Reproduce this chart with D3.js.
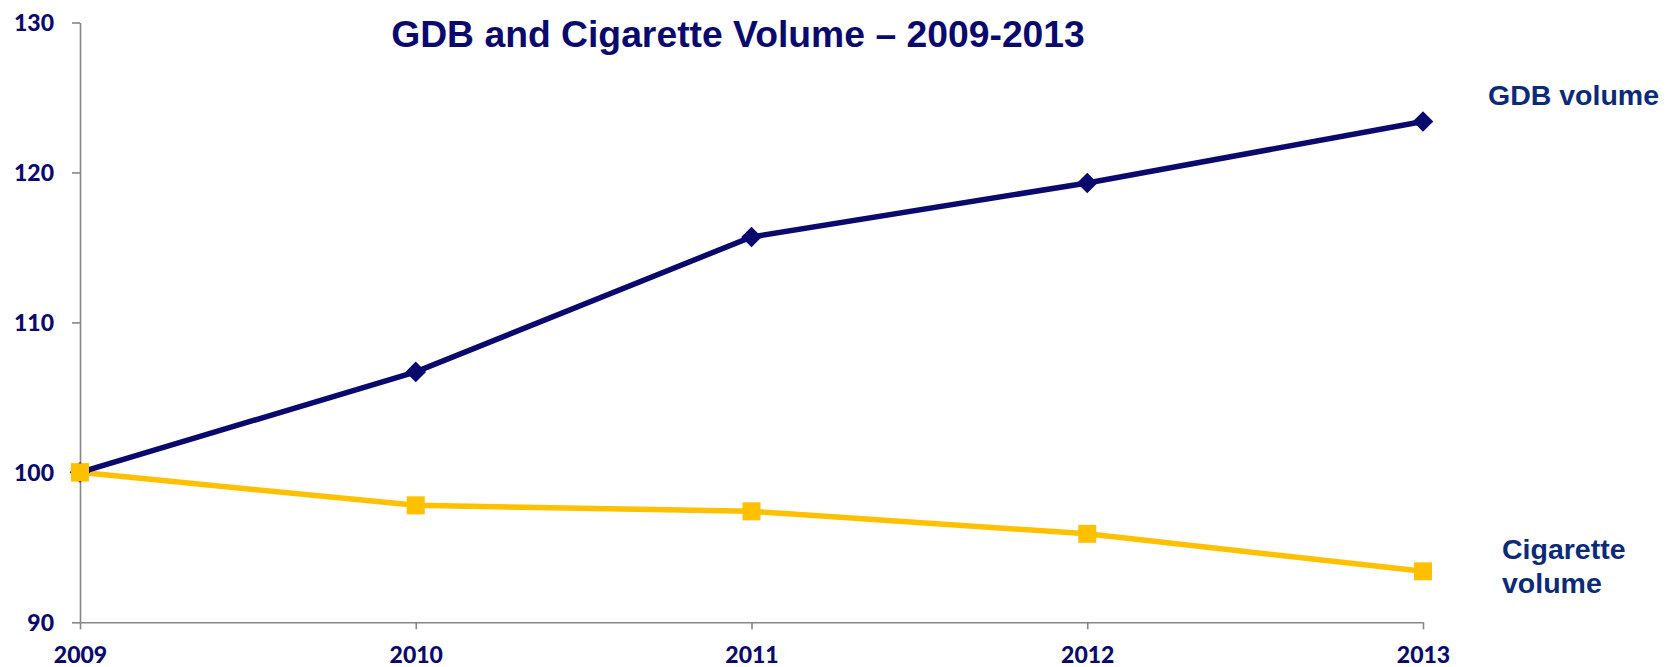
<!DOCTYPE html>
<html>
<head>
<meta charset="utf-8">
<script src="https://cdn.jsdelivr.net/npm/d3@7"></script>
<style>
	body { margin: 0; background: #fff; }
	svg { display: block; }
</style>
</head>
<body>
<div id="chart"></div>
<script>
let years = ["2009", "2010", "2011", "2012", "2013"];
let gdbVolume = [100, 106.7, 115.7, 119.3, 123.4];
let cigVolume = [100, 97.8, 97.4, 95.9, 93.4];
let yTicks = [90, 100, 110, 120, 130];

let w = 1670, h = 667;
let navy = "#0a0a6e";
let gold = "#ffc000";
let axisGrey = "#868686";

let svg = d3.select("#chart")
	.append("svg")
	.attr("width", w)
	.attr("height", h);

let x = d3.scalePoint()
	.domain(years)
	.range([80, 1423]);

let y = d3.scaleLinear()
	.domain([90, 130])
	.range([622.3, 22.5]);

// axes
let yAxis = svg.append("g")
	.attr("transform", "translate(80,0)")
	.call(d3.axisLeft(y).tickValues(yTicks).tickSize(8).tickSizeOuter(0));

let xAxis = svg.append("g")
	.attr("transform", "translate(0," + y(90) + ")")
	.call(d3.axisBottom(x).tickSize(7).tickSizeOuter(0));

[yAxis, xAxis].forEach((g) => {
	g.select(".domain").attr("stroke", axisGrey).attr("stroke-width", 1.6);
	g.selectAll(".tick line").attr("stroke", axisGrey).attr("stroke-width", 1.6);
	g.selectAll(".tick text")
		.attr("fill", navy)
		.style("font-family", "Lato, 'Open Sans', sans-serif")
		.style("font-weight", "900")
		.style("font-size", "23px");
});

yAxis.selectAll(".tick text").attr("x", -26).attr("dy", "0.35em");
xAxis.selectAll(".tick text").attr("y", 24).attr("dy", "0.71em");

// lines
let line = d3.line()
	.x((d, i) => x(years[i]))
	.y((d) => y(d));

svg.append("path")
	.datum(cigVolume)
	.attr("fill", "none")
	.attr("stroke", gold)
	.attr("stroke-width", 5.5)
	.attr("d", line);

svg.selectAll("rect.cig")
	.data(cigVolume)
	.enter().append("rect")
	.attr("class", "cig")
	.attr("width", 18)
	.attr("height", 18)
	.attr("x", (d, i) => x(years[i]) - 9)
	.attr("y", (d) => y(d) - 9)
	.attr("fill", gold);

svg.append("path")
	.datum(gdbVolume)
	.attr("fill", "none")
	.attr("stroke", navy)
	.attr("stroke-width", 5.5)
	.attr("d", line);

svg.selectAll("path.gdb")
	.data(gdbVolume)
	.enter().append("path")
	.attr("class", "gdb")
	.attr("d", d3.symbol().type(d3.symbolDiamond2).size(270))
	.attr("transform", (d, i) => "translate(" + x(years[i]) + "," + y(d) + ")")
	.attr("fill", navy);

// cigarette square at 2009 sits on top of the gdb line start
svg.append("rect")
	.attr("width", 18)
	.attr("height", 18)
	.attr("x", x(years[0]) - 9)
	.attr("y", y(cigVolume[0]) - 9)
	.attr("fill", gold);

// title and labels
svg.append("text")
	.attr("x", 738)
	.attr("y", 47)
	.attr("text-anchor", "middle")
	.attr("fill", navy)
	.style("font-family", "'Liberation Sans', Arial, sans-serif")
	.style("font-weight", "bold")
	.style("font-size", "37.3px")
	.text("GDB and Cigarette Volume \u2013 2009-2013");

let labelColor = "#0b2a78";
let labelFont = (sel) => sel
	.attr("fill", labelColor)
	.style("font-family", "'Liberation Sans', Arial, sans-serif")
	.style("font-weight", "bold")
	.style("font-size", "28.5px");

svg.append("text")
	.attr("x", 1488)
	.attr("y", 105)
	.call(labelFont)
	.text("GDB volume");

let cigLabel = svg.append("text")
	.attr("x", 1502)
	.attr("y", 559)
	.call(labelFont);
cigLabel.append("tspan").attr("x", 1502).text("Cigarette");
cigLabel.append("tspan").attr("x", 1502).attr("dy", 34).text("volume");
</script>
</body>
</html>
